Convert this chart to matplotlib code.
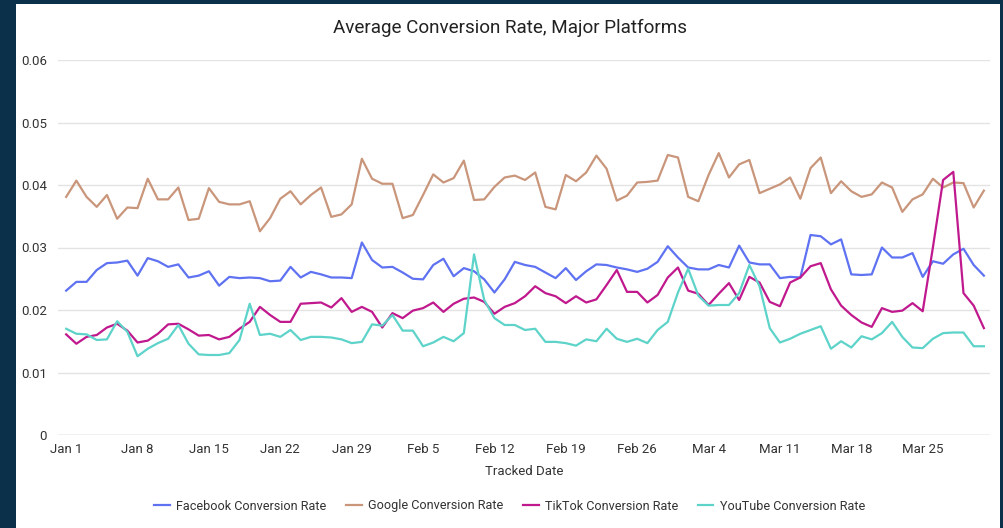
import matplotlib.pyplot as plt
import matplotlib.patches as mpatches
import numpy as np
import pandas as pd

# --- DATA (daily average conversion rates, Jan 1 - Mar 31 2024) ---
dates = pd.date_range("2024-01-01", "2024-03-31", freq="D")

facebook = [
    0.0231, 0.0245, 0.0245, 0.0264, 0.0275, 0.0276, 0.0279, 0.0255, 0.0283, 0.0278, 0.0269, 0.0273, 0.0252, 0.0255, 0.0262,
    0.0239, 0.0253, 0.0251, 0.0252, 0.0251, 0.0246, 0.0247, 0.0269, 0.0252, 0.0261, 0.0257, 0.0252, 0.0252, 0.0251, 0.0308,
    0.0280, 0.0268, 0.0269, 0.0260, 0.0250, 0.0249, 0.0272, 0.0282, 0.0254, 0.0267, 0.0262, 0.0249, 0.0228, 0.0249, 0.0277, 0.0272,
    0.0269, 0.0260, 0.0251, 0.0267, 0.0248, 0.0262, 0.0273, 0.0272, 0.0268, 0.0265, 0.0261, 0.0266, 0.0277, 0.0302, 0.0284,
    0.0268, 0.0265, 0.0265, 0.0272, 0.0268, 0.0303, 0.0276, 0.0273, 0.0273, 0.0251, 0.0253, 0.0252, 0.0320, 0.0318, 0.0305,
    0.0313, 0.0257, 0.0256, 0.0257, 0.0300, 0.0284, 0.0284, 0.0291, 0.0253, 0.0278, 0.0274, 0.0289, 0.0298, 0.0272, 0.0255,
]

google = [
    0.0381, 0.0407, 0.0381, 0.0365, 0.0384, 0.0346, 0.0364, 0.0363, 0.0410, 0.0377, 0.0377, 0.0396, 0.0344, 0.0346, 0.0395,
    0.0373, 0.0369, 0.0369, 0.0374, 0.0326, 0.0347, 0.0378, 0.0390, 0.0369, 0.0384, 0.0396, 0.0349, 0.0353, 0.0369, 0.0442,
    0.0410, 0.0402, 0.0402, 0.0347, 0.0352, 0.0384, 0.0417, 0.0404, 0.0411, 0.0439, 0.0376, 0.0377, 0.0397, 0.0412, 0.0415, 0.0408,
    0.0420, 0.0365, 0.0361, 0.0416, 0.0406, 0.0420, 0.0447, 0.0426, 0.0375, 0.0383, 0.0404, 0.0405, 0.0407, 0.0448, 0.0444,
    0.0381, 0.0374, 0.0416, 0.0451, 0.0412, 0.0433, 0.0440, 0.0387, 0.0394, 0.0401, 0.0412, 0.0378, 0.0427, 0.0444, 0.0387,
    0.0406, 0.0390, 0.0381, 0.0385, 0.0404, 0.0396, 0.0357, 0.0377, 0.0385, 0.0410, 0.0396, 0.0404, 0.0403, 0.0364, 0.0391,
]

tiktok = [
    0.0161, 0.0146, 0.0157, 0.0160, 0.0172, 0.0178, 0.0167, 0.0148, 0.0151, 0.0162, 0.0177, 0.0178, 0.0169, 0.0159, 0.0160,
    0.0153, 0.0157, 0.0170, 0.0181, 0.0205, 0.0192, 0.0181, 0.0181, 0.0210, 0.0211, 0.0212, 0.0204, 0.0219, 0.0197, 0.0205,
    0.0197, 0.0172, 0.0195, 0.0187, 0.0199, 0.0203, 0.0212, 0.0197, 0.0210, 0.0218, 0.0220, 0.0213, 0.0194, 0.0205, 0.0211, 0.0222,
    0.0238, 0.0227, 0.0222, 0.0211, 0.0222, 0.0212, 0.0217, 0.0240, 0.0264, 0.0229, 0.0229, 0.0212, 0.0224, 0.0252, 0.0268,
    0.0231, 0.0226, 0.0208, 0.0226, 0.0243, 0.0216, 0.0253, 0.0244, 0.0213, 0.0206, 0.0244, 0.0252, 0.0270, 0.0275, 0.0233,
    0.0207, 0.0192, 0.0180, 0.0173, 0.0203, 0.0197, 0.0199, 0.0211, 0.0198, 0.0300, 0.0408, 0.0421, 0.0227, 0.0207, 0.0171,
]

youtube = [
    0.0170, 0.0162, 0.0161, 0.0152, 0.0153, 0.0182, 0.0165, 0.0126, 0.0138, 0.0147, 0.0154, 0.0176, 0.0146, 0.0129, 0.0128,
    0.0128, 0.0131, 0.0152, 0.0210, 0.0160, 0.0162, 0.0157, 0.0168, 0.0152, 0.0157, 0.0157, 0.0156, 0.0153, 0.0147, 0.0149,
    0.0177, 0.0175, 0.0192, 0.0167, 0.0167, 0.0142, 0.0148, 0.0157, 0.0150, 0.0163, 0.0289, 0.0216, 0.0187, 0.0176, 0.0176, 0.0168,
    0.0170, 0.0149, 0.0149, 0.0147, 0.0143, 0.0153, 0.0150, 0.0170, 0.0154, 0.0149, 0.0154, 0.0147, 0.0168, 0.0181, 0.0228,
    0.0266, 0.0223, 0.0207, 0.0208, 0.0208, 0.0227, 0.0272, 0.0238, 0.0171, 0.0148, 0.0154, 0.0162, 0.0168, 0.0174, 0.0138,
    0.0150, 0.0140, 0.0158, 0.0153, 0.0163, 0.0181, 0.0157, 0.0140, 0.0139, 0.0154, 0.0163, 0.0164, 0.0164, 0.0142, 0.0142,
]

series_names = ["Facebook Conversion Rate", "Google Conversion Rate",
                "TikTok Conversion Rate", "YouTube Conversion Rate"]
series_colors = ["#5f72f2", "#c9967b", "#c0198e", "#5dd3c9"]

y_ticks = [0, 0.01, 0.02, 0.03, 0.04, 0.05, 0.06]
y_tick_labels = ["0", "0.01", "0.02", "0.03", "0.04", "0.05", "0.06"]
x_tick_dates = pd.date_range("2024-01-01", "2024-03-25", freq="7D")

# --- FIGURE ---
plt.rcParams['font.family'] = ['Roboto', 'DejaVu Sans']
W, H = 1004, 528
fig = plt.figure(figsize=(W / 100, H / 100), dpi=100)
fig.patch.set_facecolor("#0b3049")

# white card on navy background (behind the axes)
card = mpatches.Rectangle((16 / W, 0), (1000 - 16) / W, (H - 4) / H,
                          transform=fig.transFigure, facecolor="white",
                          edgecolor="none", zorder=-10)
fig.patches.append(card)

ax = fig.add_axes([58 / W, (H - 435) / H, (990 - 58) / W, (435 - 60) / H])
ax.set_facecolor("none")
ax.set_zorder(1)

x = np.arange(len(dates))
for vals, name, col in zip([facebook, google, tiktok, youtube], series_names, series_colors):
    ax.plot(x, vals, color=col, linewidth=1.6, label=name, solid_joinstyle="round")

ax.set_ylim(0, 0.06)
ax.set_xlim(-0.8, 90.6)
ax.set_yticks(y_ticks)
ax.set_yticklabels(y_tick_labels)
tick_pos = [(d - dates[0]).days for d in x_tick_dates]
ax.set_xticks(tick_pos)
ax.set_xticklabels([f"{d.strftime('%b')} {d.day}" for d in x_tick_dates])

ax.grid(axis="y", color="#e3e3e3", linewidth=1)
ax.set_axisbelow(True)
for s in ax.spines.values():
    s.set_visible(False)
ax.axhline(0, color="#cfd3dc", linewidth=1, zorder=1)
ax.tick_params(axis="both", length=0, labelsize=9.5, colors="#333333")
ax.tick_params(axis="y", pad=8)
ax.tick_params(axis="x", pad=6)

ax.set_xlabel("Tracked Date", fontsize=9.5, color="#333333", labelpad=6)
fig.text(0.5077, (H - 28) / H, "Average Conversion Rate, Major Platforms",
         ha="center", va="center", fontsize=13.6, color="#222222")

fig.legend(loc="center", bbox_to_anchor=(0.5077, (H - 506) / H), ncol=4,
           frameon=False, fontsize=9.1, handlelength=1.2, handletextpad=0.5,
           columnspacing=1.6, labelcolor="#333333")

fig.savefig("out.png", dpi=100, facecolor=fig.get_facecolor())
